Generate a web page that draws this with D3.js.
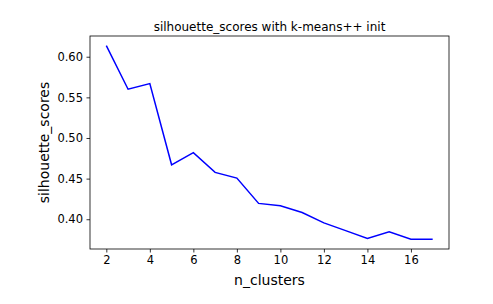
<!DOCTYPE html>
<html lang="en">
<head>
    <meta charset="UTF-8">
    <title>silhouette_scores with k-means++ init</title>
    <script src="https://d3js.org/d3.v7.min.js"></script>
    <style>
        body { margin: 0; background: #fff; }
        svg text { font-family: "DejaVu Sans", sans-serif; fill: #000; }
    </style>
</head>
<body>
    <div id="chart"></div>
    <script>
        // data
        const nClusters = [2, 3, 4, 5, 6, 7, 8, 9, 10, 11, 12, 13, 14, 15, 16, 17];
        const scores = [0.6136, 0.5600, 0.5670, 0.4670, 0.4820, 0.4577, 0.4506, 0.4195,
                        0.4165, 0.4083, 0.3955, 0.3860, 0.3763, 0.3845, 0.3753, 0.3755];
        const xTicks = [2, 4, 6, 8, 10, 12, 14, 16];
        const yTicks = [0.40, 0.45, 0.50, 0.55, 0.60];

        const width = 493, height = 304;
        const margin = { top: 36, right: 44, bottom: 55, left: 90 };

        const svg = d3.select("#chart").append("svg")
            .attr("width", width)
            .attr("height", height);

        const xExt = d3.extent(nClusters), yExt = d3.extent(scores);
        const xPad = (xExt[1] - xExt[0]) * 0.05, yPad = (yExt[1] - yExt[0]) * 0.05;

        const x = d3.scaleLinear()
            .domain([xExt[0] - xPad, xExt[1] + xPad])
            .range([margin.left, width - margin.right]);
        const y = d3.scaleLinear()
            .domain([yExt[0] - yPad, yExt[1] + yPad])
            .range([height - margin.bottom, margin.top]);

        const xAxis = svg.append("g")
            .attr("transform", `translate(0,${height - margin.bottom})`)
            .call(d3.axisBottom(x).tickValues(xTicks).tickFormat(d3.format("d")).tickSize(3.5).tickPadding(3.5));
        const yAxis = svg.append("g")
            .attr("transform", `translate(${margin.left},0)`)
            .call(d3.axisLeft(y).tickValues(yTicks).tickFormat(d3.format(".2f")).tickSize(3.5).tickPadding(3.5));

        [xAxis, yAxis].forEach(g => {
            g.select(".domain").remove();
            g.selectAll("line").attr("stroke", "#000").attr("stroke-width", 0.8);
            g.selectAll("text").style("font-size", "11.5px").style("font-family", "DejaVu Sans");
        });

        // frame
        svg.append("rect")
            .attr("x", margin.left).attr("y", margin.top)
            .attr("width", width - margin.left - margin.right)
            .attr("height", height - margin.top - margin.bottom)
            .attr("fill", "none").attr("stroke", "#000").attr("stroke-width", 0.8);

        const line = d3.line()
            .x((d, i) => x(nClusters[i]))
            .y(d => y(d));

        svg.append("path")
            .datum(scores)
            .attr("fill", "none")
            .attr("stroke", "#0000ff")
            .attr("stroke-width", 1.5)
            .attr("d", line);

        svg.append("text")
            .attr("x", (margin.left + width - margin.right) / 2)
            .attr("y", 31)
            .attr("text-anchor", "middle")
            .style("font-size", "12px")
            .text("silhouette_scores with k-means++ init");

        svg.append("text")
            .attr("x", (margin.left + width - margin.right) / 2)
            .attr("y", 285)
            .attr("text-anchor", "middle")
            .style("font-size", "14px")
            .text("n_clusters");

        svg.append("text")
            .attr("transform", `translate(49,${(margin.top + height - margin.bottom) / 2}) rotate(-90)`)
            .attr("text-anchor", "middle")
            .style("font-size", "14px")
            .text("silhouette_scores");
    </script>
</body>
</html>
